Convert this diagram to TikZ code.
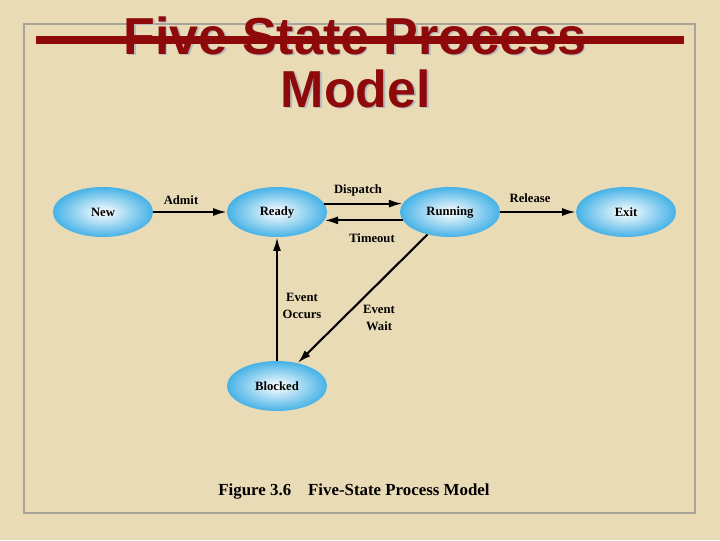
\documentclass[tikz,border=0pt]{standalone}
\usepackage{fontspec}
\setmainfont{Liberation Serif}
\setsansfont{Liberation Sans}
\usetikzlibrary{arrows.meta,shapes.geometric}
\definecolor{pbeige}{HTML}{EADBB7}
\definecolor{pframe}{HTML}{A8A49C}
\definecolor{pred}{HTML}{8E0A0A}
\definecolor{pblue}{HTML}{46B2E6}

\begin{document}
\begin{tikzpicture}[
  x=0.025cm, y=-0.025cm,
  state/.style={ellipse, minimum width=2.5cm, minimum height=1.25cm, inner sep=0pt,
                shading=radial, inner color=white, outer color=pblue,
                font=\bfseries\fontsize{9}{10}\selectfont},
  trans/.style={-{Latex[length=3.4mm, width=2mm]}, line width=1.5pt},
  lbl/.style={font=\bfseries\fontsize{9}{11.5}\selectfont, align=center, inner sep=1pt},
  title/.style={font=\sffamily\bfseries\fontsize{37}{40}\selectfont, text=pred,
                anchor=base, inner sep=0pt},
  shade/.style={title, text=black!28},
]

% ---------------- the slide ----------------
\fill[pbeige] (0,0) rectangle (720,540);
\useasboundingbox (0,0) rectangle (720,540);
\draw[pframe, line width=1pt] (24,24) rectangle (695,513);

% ---------------- the title ----------------
\node[shade] (shadow1) at (356.5,55.5)  {Five State Process};
\node[shade] (shadow2) at (357.5,108.5) {Model};
\node[title] (head1) at (355,54)  {Five State Process};
\node[title] (head2) at (356,107) {Model};
\draw[pred, line width=5.5pt] (36,40) -- (684,40);

% ---------------- the states ----------------
\node[state] (new)     at (103,212) {New};
\node[state] (ready)   at (277,212) {Ready};
\node[state] (running) at (450,212) {Running};
\node[state] (exit)    at (626,212) {Exit};
\node[state] (blocked) at (277,386) {Blocked};

% ---------------- the transitions ----------------
\draw[trans] (new) -- (ready);
\draw[trans] (ready.10) -- (running.170);
\draw[trans] (running.190) -- (ready.-10);
\draw[trans] (running) -- (exit);
\draw[trans] (blocked.north) -- (ready.south);
\draw[trans] (running.225) -- (blocked.48);

\node[lbl] (admit)    at (181,200) {Admit};
\node[lbl] (dispatch) at (358,190) {Dispatch};
\node[lbl] (timeout)  at (372,238) {Timeout};
\node[lbl] (release)  at (530,198) {Release};
\node[lbl] (occurs)   at (302,306) {Event\\Occurs};
\node[lbl] (wait)     at (379,318) {Event\\Wait};

% ---------------- the caption ----------------
\node[font=\bfseries\fontsize{12}{14}\selectfont] (caption) at (354,491)
  {Figure 3.6\quad Five-State Process Model};

\end{tikzpicture}
\end{document}
